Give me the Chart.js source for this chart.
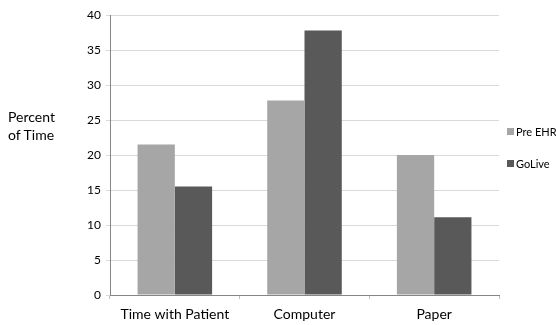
<!DOCTYPE html>
<html lang="en">
<head>
    <meta charset="UTF-8">
    <script src="https://cdn.jsdelivr.net/npm/chart.js"></script>
    <title>Percent of Time</title>
    <style>
        body {
            margin: 0;
            font-family: Lato, sans-serif;
            background: #ffffff;
        }

        #wrap {
            position: relative;
            width: 556px;
            height: 325px;
        }

        #yTitle {
            position: absolute;
            left: 8px;
            top: 108px;
            font-size: 14px;
            line-height: 18px;
            color: #000;
        }
    </style>
</head>
<body>

    <div id="wrap">
        <canvas id="myChart" width="556" height="325"></canvas>
        <div id="yTitle">Percent<br>of Time</div>
    </div>

    <script>
        const categories = ['Time with Patient', 'Computer', 'Paper'];
        const preEhr = [21.5, 27.8, 20.0];
        const goLive = [15.5, 37.8, 11.1];
        const seriesNames = ['Pre EHR', 'GoLive'];
        const seriesColors = ['#a6a6a6', '#595959'];

        // legend drawn at the right, items spaced like the original
        const sideLegend = {
            id: 'sideLegend',
            afterDraw(chart) {
                const ctx = chart.ctx;
                const x = chart.chartArea.right + 8;
                ctx.save();
                ctx.font = '11px Lato, sans-serif';
                ctx.textBaseline = 'middle';
                chart.data.datasets.forEach((ds, i) => {
                    const y = 132 + i * 32;
                    ctx.fillStyle = ds.backgroundColor;
                    ctx.fillRect(x, y - 4, 7, 7);
                    ctx.fillStyle = '#000';
                    ctx.fillText(ds.label, x + 9, y);
                });
                ctx.restore();
            }
        };

        const ctx = document.getElementById('myChart').getContext('2d');

        new Chart(ctx, {
            type: 'bar',
            data: {
                labels: categories,
                datasets: [
                    { label: seriesNames[0], data: preEhr, backgroundColor: seriesColors[0] },
                    { label: seriesNames[1], data: goLive, backgroundColor: seriesColors[1] }
                ]
            },
            options: {
                responsive: false,
                animation: false,
                categoryPercentage: 0.575,
                barPercentage: 1,
                layout: {
                    padding: { top: 15, right: 57, left: 0, bottom: 0 }
                },
                plugins: {
                    legend: { display: false },
                    tooltip: { enabled: false }
                },
                scales: {
                    x: {
                        grid: {
                            drawOnChartArea: false,
                            tickLength: 4,
                            color: '#bfbfbf'
                        },
                        border: { color: '#868686' },
                        ticks: {
                            color: '#000',
                            padding: 7,
                            font: { family: 'Lato', size: 14 }
                        },
                        afterFit(scale) { scale.height = 30; }
                    },
                    y: {
                        min: 0,
                        max: 40,
                        grid: {
                            color: '#d9d9d9',
                            tickLength: 4
                        },
                        border: { color: '#868686' },
                        ticks: {
                            stepSize: 5,
                            color: '#000',
                            padding: 5,
                            font: { family: 'Lato', size: 12 }
                        },
                        afterFit(scale) { scale.width = 110; }
                    }
                }
            },
            plugins: [sideLegend]
        });
    </script>

</body>
</html>
